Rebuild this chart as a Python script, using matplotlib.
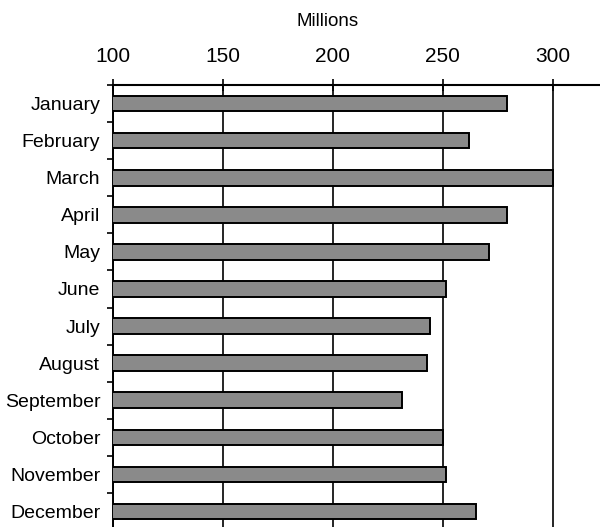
import matplotlib.pyplot as plt
from matplotlib.ticker import FixedLocator, NullFormatter

# monthly totals, millions
months = ['January', 'February', 'March', 'April', 'May', 'June',
          'July', 'August', 'September', 'October', 'November', 'December']
values = [279, 262, 300, 279, 271, 251.5, 244, 243, 231.5, 250, 251.5, 265]
x_ticks = [100, 150, 200, 250, 300]

plt.rcParams['font.family'] = ['Liberation Sans', 'DejaVu Sans']

fig = plt.figure(figsize=(6.0, 5.27), dpi=100)
ax = fig.add_axes([0.188, -0.0057, 0.812, 0.8444])

ypos = list(range(len(months)))
ax.barh(ypos, values, height=0.42, color='#8a8a8a', edgecolor='black',
        linewidth=1.4, zorder=3)

ax.set_xlim(100, 321.4)
ax.set_ylim(11.5, -0.5)

# axis on top
ax.xaxis.set_label_position('top')
ax.xaxis.tick_top()
ax.set_xticks(x_ticks)
ax.set_xticklabels([str(t) for t in x_ticks], fontsize=15)
ax.tick_params(axis='x', direction='inout', length=9, width=1.2, pad=9)
ax.set_xlabel('Millions', fontsize=13.5, labelpad=15)
ax.xaxis.label.set_x(0.44)

ax.set_yticks(ypos)
ax.set_yticklabels(months, fontsize=14)
ax.tick_params(axis='y', which='major', length=0, pad=9)
ax.yaxis.set_minor_locator(FixedLocator([i + 0.5 for i in range(-1, len(months))]))
ax.yaxis.set_minor_formatter(NullFormatter())
ax.tick_params(axis='y', which='minor', direction='out', length=4, width=1.2)

ax.grid(True, axis='x', color='black', linewidth=1.2, zorder=1)

for side in ['right', 'bottom']:
    ax.spines[side].set_visible(False)
ax.spines['top'].set_linewidth(1.5)
ax.spines['left'].set_linewidth(1.4)

fig.savefig('out.png', dpi=100)
